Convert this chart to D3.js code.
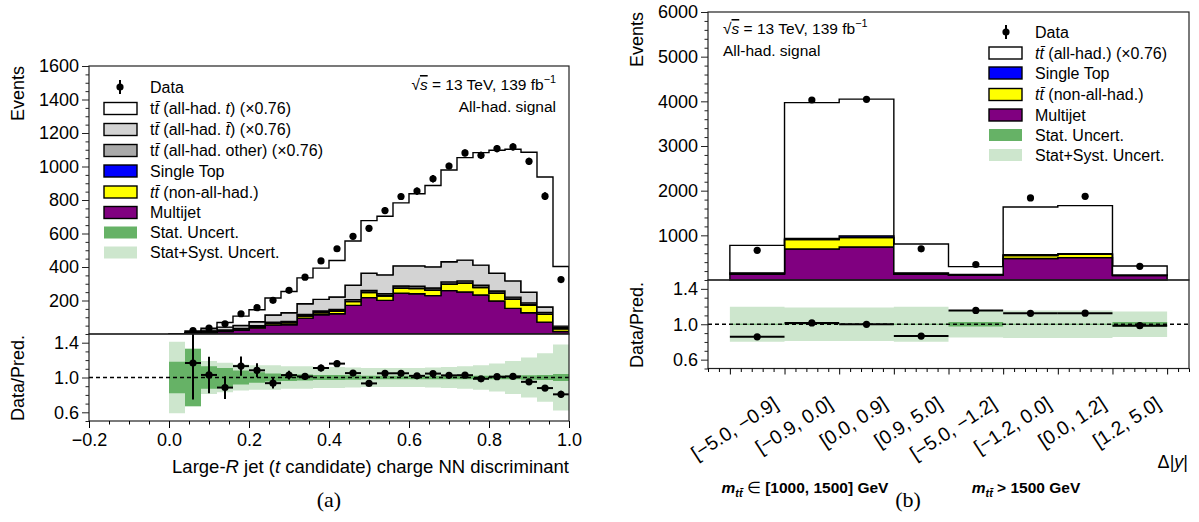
<!DOCTYPE html>
<html><head><meta charset="utf-8">
<script src="https://cdn.jsdelivr.net/npm/d3@7"></script>
<style>
body{margin:0;background:#fff}
text{font-family:"Liberation Sans",Arial,Helvetica,sans-serif;fill:#000}
</style>
</head><body>
<svg id="c" width="1199" height="522"></svg>
<script>
// ---------------- DATA: panel (a) ----------------
const binLowA = [0.00,0.04,0.08,0.12,0.16,0.20,0.24,0.28,0.32,0.36,0.40,0.44,0.48,0.52,0.56,0.60,0.64,0.68,0.72,0.76,0.80,0.84,0.88,0.92,0.96];
const binWidthA = 0.04;
const multijetA   = [1,3,8,15,22,35,53,55,95,115,121,171,217,201,243,240,229,259,251,233,197,153,127,71,15];
const ttNonAllA   = [0,1,3,5,6,8,10,12,12,12,14,22,30,26,30,31,32,38,52,44,46,54,44,46,16];
const singleTopA  = [0,0,0,1,1,1,1,1,2,2,2,2,2,2,2,2,2,2,2,2,2,2,4,2,1];
const ttOtherA    = [0,1,2,3,4,5,6,7,8,8,9,10,11,11,12,12,12,12,12,12,12,11,11,10,6];
const ttAntiTopA  = [0,4,10,17,18,24,43,52,64,70,75,86,103,113,120,122,126,120,124,120,106,97,63,32,9];
const ttTopA      = [1,9,11,28,56,72,102,127,154,186,218,264,314,350,376,430,486,548,612,672,734,786,836,776,356];
const dataA       = [null,21,35,61,121,157,201,261,339,436,509,583,631,737,821,853,927,1003,1081,1067,1107,1117,1031,823,325];
const dataRelErrA = [null,0.42,0.21,0.13,0.11,0.08,0.06,0.05,0.04,0.04,0.035,0.03,0.03,0.03,0.025,0.025,0.025,0.02,0.02,0.02,0.02,0.02,0.02,0.025,0.04];
const statBandA   = [0.18,0.33,0.13,0.11,0.08,0.06,0.045,0.04,0.035,0.03,0.03,0.025,0.02,0.02,0.02,0.02,0.02,0.02,0.02,0.02,0.02,0.02,0.025,0.03,0.04];
const totBandA    = [0.41,0.33,0.19,0.17,0.15,0.14,0.14,0.13,0.13,0.12,0.12,0.115,0.11,0.11,0.11,0.11,0.115,0.12,0.13,0.14,0.16,0.19,0.23,0.28,0.38];
const yTicksA = [200,400,600,800,1000,1200,1400,1600];
const xTicksA = [-0.2,0.0,0.2,0.4,0.6,0.8,1.0];
const rTicks  = [0.6,1.0,1.4];

// ---------------- DATA: panel (b) ----------------
const binLabelsB  = ["[\u22125.0, \u22120.9]","[\u22120.9, 0.0]","[0.0, 0.9]","[0.9, 5.0]","[\u22125.0, \u22121.2]","[\u22121.2, 0.0]","[0.0, 1.2]","[1.2, 5.0]"];
const multijetB   = [130,693,738,130,110,480,500,100];
const ttNonAllB   = [20,210,210,20,8,70,74,8];
const singleTopB  = [10,30,40,10,5,15,15,5];
const ttAllHadB   = [615,3037,3062,645,177,1070,1077,199];
const dataB       = [665,4030,4045,697,347,1837,1874,307];
const dataRelErrB = [0.01,0.008,0.008,0.01,0.035,0.012,0.012,0.035];
const statBandB   = [0.005,0.003,0.003,0.005,0.025,0.005,0.005,0.025];
const totBandB    = [0.197,0.19,0.19,0.197,0.15,0.155,0.155,0.145];
const yTicksB = [1000,2000,3000,4000,5000,6000];

// ---------------- helpers ----------------
const svg = d3.select("#c");
const C = {mj:"#800080", yel:"#ffff00", st:"#0000ff", oth:"#a9a9a9", tbar:"#d3d3d3", top:"#ffffff",
           stat:"#66b266", tot:"#cde6cd"};

function rich(g, x, y, parts, o={}) {
  const size = o.size || 16;
  const t = g.append("text").attr("x",x).attr("y",y).style("font-size",size+"px")
    .attr("text-anchor", o.anchor||"start");
  if (o.baseline) t.attr("dominant-baseline", o.baseline);
  if (o.bold) t.style("font-weight","bold");
  if (o.transform) t.attr("transform", o.transform);
  let shift = 0;
  parts.forEach(p => {
    if (typeof p === "string") p = {t:p};
    const ts = t.append("tspan").text(p.t);
    const target = p.sup ? -0.42*size : (p.sub ? 0.28*size : 0);
    if (target !== shift) { ts.attr("dy", target - shift); shift = target; }
    if (p.i) ts.style("font-style","italic");
    if (p.normal) ts.style("font-weight","normal");
    if (p.sup || p.sub) ts.style("font-size", (size*0.7)+"px");
    if (p.over) ts.style("text-decoration","overline");
  });
  return t;
}

function stepPath(lows, width, lo, hi, X, Y) {
  const pts = lows.map((b,i)=>({x:b, y0:lo[i], y1:hi[i]}));
  const n = lows.length;
  pts.push({x:lows[n-1]+width, y0:lo[n-1], y1:hi[n-1]});
  return d3.area().curve(d3.curveStepAfter).x(d=>X(d.x)).y0(d=>Y(d.y0)).y1(d=>Y(d.y1))(pts);
}

function drawStack(g, lows, width, series, colors, X, Y) {
  const rows = lows.map((b,i)=>{ const r={x:b}; series.forEach((s,k)=>r["k"+k]=s[i]); return r; });
  const stack = d3.stack().keys(series.map((s,k)=>"k"+k))(rows);
  stack.forEach((layer,k)=>{
    g.append("path").attr("d", stepPath(lows, width, layer.map(d=>d[0]), layer.map(d=>d[1]), X, Y))
      .attr("fill", colors[k]).attr("stroke","#000").attr("stroke-width",1.4).attr("stroke-linejoin","miter");
  });
}

function yAxis(g, Y, major, minor, fmt, x0) {
  const a = d3.axisLeft(Y).tickValues(major).tickSize(7).tickPadding(3).tickFormat(fmt);
  const ga = g.append("g").attr("transform",`translate(${x0},0)`).call(a);
  ga.select(".domain").remove();
  ga.selectAll("text").style("font-size","18px").attr("font-family",null);
  ga.selectAll("line").attr("stroke","#222");
  const gm = g.append("g").attr("transform",`translate(${x0},0)`).call(d3.axisLeft(Y).tickValues(minor).tickSize(3.5).tickFormat(""));
  gm.select(".domain").remove();
  gm.selectAll("line").attr("stroke","#222");
}

function frame(g, x0, x1, y0, y1) {
  g.append("rect").attr("x",x0).attr("y",y0).attr("width",x1-x0).attr("height",y1-y0)
    .attr("fill","none").attr("stroke","#222").attr("stroke-width",1.2);
}

function legendBox(g, x, y, fill, stroke) {
  g.append("rect").attr("x",x).attr("y",y-6).attr("width",33).attr("height",12)
    .attr("fill",fill).attr("stroke",stroke?"#000":"none").attr("stroke-width",1.4);
}
function legendData(g, x, y) {
  g.append("line").attr("x1",x).attr("x2",x).attr("y1",y-7).attr("y2",y+7).attr("stroke","#000").attr("stroke-width",2);
  g.append("circle").attr("cx",x).attr("cy",y).attr("r",3.6).attr("fill","#000");
}

const tt = [{t:"t"},{t:"t\u0304",i:true}];
const ttI = [{t:"t",i:true},{t:"t\u0304",i:true}];

// ================= PANEL (a) =================
{
  const g = svg.append("g");
  const X = d3.scaleLinear().domain([-0.2,1.0]).range([89,569]);
  const Y = d3.scaleLinear().domain([0,1600]).range([334,66]);
  const R = d3.scaleLinear().domain([0.5,1.5]).range([421,334]);
  const total = binLowA.map((b,i)=>multijetA[i]+ttNonAllA[i]+singleTopA[i]+ttOtherA[i]+ttAntiTopA[i]+ttTopA[i]);

  g.append("clipPath").attr("id","clipMainA").append("rect").attr("x",89).attr("y",66).attr("width",480).attr("height",268);
  g.append("clipPath").attr("id","clipRatA").append("rect").attr("x",89).attr("y",334).attr("width",480).attr("height",87);

  const gm = g.append("g").attr("clip-path","url(#clipMainA)");
  drawStack(gm, binLowA, binWidthA, [multijetA, ttNonAllA, singleTopA, ttOtherA, ttAntiTopA, ttTopA],
            [C.mj, C.yel, C.st, C.oth, C.tbar, C.top], X, Y);
  binLowA.forEach((b,i)=>{
    if (dataA[i]==null) return;
    const cx = X(b+binWidthA/2), e = dataRelErrA[i]*total[i];
    gm.append("line").attr("x1",cx).attr("x2",cx).attr("y1",Y(dataA[i]-e)).attr("y2",Y(dataA[i]+e)).attr("stroke","#000").attr("stroke-width",2);
    gm.append("circle").attr("cx",cx).attr("cy",Y(dataA[i])).attr("r",3.6).attr("fill","#000");
  });

  // ratio
  const gr = g.append("g").attr("clip-path","url(#clipRatA)");
  gr.append("path").attr("d", stepPath(binLowA, binWidthA, totBandA.map(h=>1-h), totBandA.map(h=>1+h), X, R)).attr("fill",C.tot);
  gr.append("path").attr("d", stepPath(binLowA, binWidthA, statBandA.map(h=>1-h), statBandA.map(h=>1+h), X, R)).attr("fill",C.stat);
  gr.append("line").attr("x1",X(-0.2)).attr("x2",X(1.0)).attr("y1",R(1)).attr("y2",R(1))
    .attr("stroke","#000").attr("stroke-width",1.3).attr("stroke-dasharray","4,3");
  binLowA.forEach((b,i)=>{
    if (dataA[i]==null) return;
    const r = dataA[i]/total[i], e = dataRelErrA[i], cx = X(b+binWidthA/2);
    gr.append("line").attr("x1",X(b)).attr("x2",X(b+binWidthA)).attr("y1",R(r)).attr("y2",R(r)).attr("stroke","#000").attr("stroke-width",2);
    gr.append("line").attr("x1",cx).attr("x2",cx).attr("y1",R(r-e)).attr("y2",R(r+e)).attr("stroke","#000").attr("stroke-width",2);
    gr.append("circle").attr("cx",cx).attr("cy",R(r)).attr("r",3.6).attr("fill","#000");
  });

  frame(g, 89, 569, 66, 334);
  frame(g, 89, 569, 334, 421);

  // axes
  const minorY = d3.range(50,1600,50).filter(v=>v%200!==0);
  yAxis(g, Y, yTicksA, minorY, d3.format("d"), 89);
  yAxis(g, R, rTicks, [0.5,0.7,0.8,0.9,1.1,1.2,1.3,1.5], d3.format(".1f"), 89);
  const ax = g.append("g").attr("transform","translate(0,421)").call(d3.axisBottom(X).tickValues(xTicksA).tickSize(7).tickPadding(5).tickFormat(d3.format(".1f")));
  ax.select(".domain").remove();
  ax.selectAll("text").style("font-size","18px").attr("font-family",null);
  const minorX = d3.range(-0.15,1.0,0.05).filter(v=>Math.abs(Math.round(v/0.2)*0.2-v)>1e-6);
  const axm = g.append("g").attr("transform","translate(0,421)").call(d3.axisBottom(X).tickValues(minorX).tickSize(3.5).tickFormat(""));
  axm.select(".domain").remove();

  rich(g, 569, 473, ["Large-",{t:"R",i:true}," jet (",{t:"t",i:true}," candidate) charge NN discriminant"], {size:18.5, anchor:"end"});
  rich(g, 24, 66, ["Events"], {size:18, anchor:"end", transform:"rotate(-90,24,66)"});
  rich(g, 24, 378, ["Data/Pred."], {size:18, anchor:"middle", transform:"rotate(-90,24,378)"});

  rich(g, 556, 90, [{t:"\u221A"},{t:"s",i:true,over:true}," = 13 TeV, 139 fb",{t:"\u22121",sup:true}], {size:15.5, anchor:"end"});
  rich(g, 556, 112, ["All-had. signal"], {size:15.5, anchor:"end"});

  // legend
  const lg = g.append("g");
  const ly = [87,108.5,129.5,150.5,171,192,212.5,232.5,252.5];
  const tx = 150;
  legendData(lg, 120, ly[0]);
  rich(lg, tx, ly[0]+5.5, ["Data"], {size:16});
  legendBox(lg, 104, ly[1], C.top, true);
  rich(lg, tx, ly[1]+5.5, [...tt," (all-had. ",{t:"t",i:true},") (\u00D70.76)"], {size:16});
  legendBox(lg, 104, ly[2], C.tbar, true);
  rich(lg, tx, ly[2]+5.5, [...tt," (all-had. ",{t:"t\u0304",i:true},") (\u00D70.76)"], {size:16});
  legendBox(lg, 104, ly[3], C.oth, true);
  rich(lg, tx, ly[3]+5.5, [...tt," (all-had. other) (\u00D70.76)"], {size:16});
  legendBox(lg, 104, ly[4], C.st, true);
  rich(lg, tx, ly[4]+5.5, ["Single Top"], {size:16});
  legendBox(lg, 104, ly[5], C.yel, true);
  rich(lg, tx, ly[5]+5.5, [...ttI," (non-all-had.)"], {size:16});
  legendBox(lg, 104, ly[6], C.mj, true);
  rich(lg, tx, ly[6]+5.5, ["Multijet"], {size:16});
  legendBox(lg, 104, ly[7], C.stat, false);
  rich(lg, tx, ly[7]+5.5, ["Stat. Uncert."], {size:16});
  legendBox(lg, 104, ly[8], C.tot, false);
  rich(lg, tx, ly[8]+5.5, ["Stat+Syst. Uncert."], {size:16});

  g.append("text").attr("x",329).attr("y",507).attr("text-anchor","middle")
    .style("font-family",'"Liberation Serif","Times New Roman",serif').style("font-size","22px").text("(a)");
}

// ================= PANEL (b) =================
{
  const g = svg.append("g");
  const X = d3.scaleLinear().domain([-0.4,8.4]).range([708,1189]);
  const Y = d3.scaleLinear().domain([0,6000]).range([280,12]);
  const R = d3.scaleLinear().domain([0.5,1.5]).range([368.5,280]);
  const idx = binLabelsB.map((l,i)=>i);
  const total = idx.map(i=>multijetB[i]+ttNonAllB[i]+singleTopB[i]+ttAllHadB[i]);

  g.append("clipPath").attr("id","clipRatB").append("rect").attr("x",708).attr("y",280).attr("width",481).attr("height",88.5);

  drawStack(g, idx, 1, [multijetB, ttNonAllB, singleTopB, ttAllHadB], [C.mj, C.yel, C.st, C.top], X, Y);
  idx.forEach(i=>{
    const cx = X(i+0.5), e = dataRelErrB[i]*total[i];
    g.append("line").attr("x1",cx).attr("x2",cx).attr("y1",Y(dataB[i]-e)).attr("y2",Y(dataB[i]+e)).attr("stroke","#000").attr("stroke-width",2);
    g.append("circle").attr("cx",cx).attr("cy",Y(dataB[i])).attr("r",3.6).attr("fill","#000");
  });

  const gr = g.append("g").attr("clip-path","url(#clipRatB)");
  gr.append("path").attr("d", stepPath(idx, 1, totBandB.map(h=>1-h), totBandB.map(h=>1+h), X, R)).attr("fill",C.tot);
  gr.append("path").attr("d", stepPath(idx, 1, statBandB.map(h=>1-h), statBandB.map(h=>1+h), X, R)).attr("fill",C.stat);
  gr.append("line").attr("x1",X(-0.4)).attr("x2",X(8.4)).attr("y1",R(1)).attr("y2",R(1))
    .attr("stroke","#000").attr("stroke-width",1.3).attr("stroke-dasharray","4,3");
  idx.forEach(i=>{
    const r = dataB[i]/total[i], e = dataRelErrB[i], cx = X(i+0.5);
    gr.append("line").attr("x1",X(i)).attr("x2",X(i+1)).attr("y1",R(r)).attr("y2",R(r)).attr("stroke","#000").attr("stroke-width",2);
    gr.append("line").attr("x1",cx).attr("x2",cx).attr("y1",R(r-e)).attr("y2",R(r+e)).attr("stroke","#000").attr("stroke-width",2);
    gr.append("circle").attr("cx",cx).attr("cy",R(r)).attr("r",3.6).attr("fill","#000");
  });

  frame(g, 708, 1189, 12, 280);
  frame(g, 708, 1189, 280, 368.5);

  const minorY = d3.range(200,6000,200).filter(v=>v%1000!==0);
  yAxis(g, Y, yTicksB, minorY, d3.format("d"), 708);
  yAxis(g, R, rTicks, [0.5,0.7,0.8,0.9,1.1,1.2,1.3,1.5], d3.format(".1f"), 708);

  const majorX = d3.range(0,9,1);
  const ax = g.append("g").attr("transform","translate(0,368.5)").call(d3.axisBottom(X).tickValues(majorX).tickSize(6).tickFormat(""));
  ax.select(".domain").remove();
  const minorX = d3.range(-0.4,8.41,0.2).filter(v=>Math.abs(v-Math.round(v))>1e-6);
  const axm = g.append("g").attr("transform","translate(0,368.5)").call(d3.axisBottom(X).tickValues(minorX).tickSize(3.5).tickFormat(""));
  axm.select(".domain").remove();

  binLabelsB.forEach((lab,i)=>{
    const x = X(i+1)-5, y = 407;
    g.append("text").attr("x",x).attr("y",y).attr("text-anchor","end")
      .attr("transform",`rotate(-33,${x},${y})`).style("font-size","19.5px").text(lab);
  });

  rich(g, 805, 493, [{t:"m",i:true},{t:"t",i:true,sub:true},{t:"t\u0304",i:true,sub:true}," ",{t:"\u2208",normal:true}," [1000, 1500] GeV"], {size:15.5, anchor:"middle", bold:true});
  rich(g, 1026, 493, [{t:"m",i:true},{t:"t",i:true,sub:true},{t:"t\u0304",i:true,sub:true}," > 1500 GeV"], {size:15.5, anchor:"middle", bold:true});
  rich(g, 1188, 468, ["\u0394|",{t:"y",i:true},"|"], {size:18, anchor:"end"});

  rich(g, 643, 12, ["Events"], {size:18, anchor:"end", transform:"rotate(-90,643,12)"});
  rich(g, 643, 325, ["Data/Pred."], {size:18, anchor:"middle", transform:"rotate(-90,643,325)"});

  rich(g, 723, 34, [{t:"\u221A"},{t:"s",i:true,over:true}," = 13 TeV, 139 fb",{t:"\u22121",sup:true}], {size:15.5});
  rich(g, 723, 56, ["All-had. signal"], {size:15.5});

  const lg = g.append("g");
  const ly = [32,53,73,94.5,115,135,155];
  const bx = 989, tx = 1035;
  legendData(lg, 1006, ly[0]);
  rich(lg, tx, ly[0]+5.5, ["Data"], {size:16});
  legendBox(lg, bx, ly[1], C.top, true);
  rich(lg, tx, ly[1]+5.5, [...ttI," (all-had.) (\u00D70.76)"], {size:16});
  legendBox(lg, bx, ly[2], C.st, true);
  rich(lg, tx, ly[2]+5.5, ["Single Top"], {size:16});
  legendBox(lg, bx, ly[3], C.yel, true);
  rich(lg, tx, ly[3]+5.5, [...ttI," (non-all-had.)"], {size:16});
  legendBox(lg, bx, ly[4], C.mj, true);
  rich(lg, tx, ly[4]+5.5, ["Multijet"], {size:16});
  legendBox(lg, bx, ly[5], C.stat, false);
  rich(lg, tx, ly[5]+5.5, ["Stat. Uncert."], {size:16});
  legendBox(lg, bx, ly[6], C.tot, false);
  rich(lg, tx, ly[6]+5.5, ["Stat+Syst. Uncert."], {size:16});

  g.append("text").attr("x",908).attr("y",507).attr("text-anchor","middle")
    .style("font-family",'"Liberation Serif","Times New Roman",serif').style("font-size","22px").text("(b)");
}
</script>
</body></html>
